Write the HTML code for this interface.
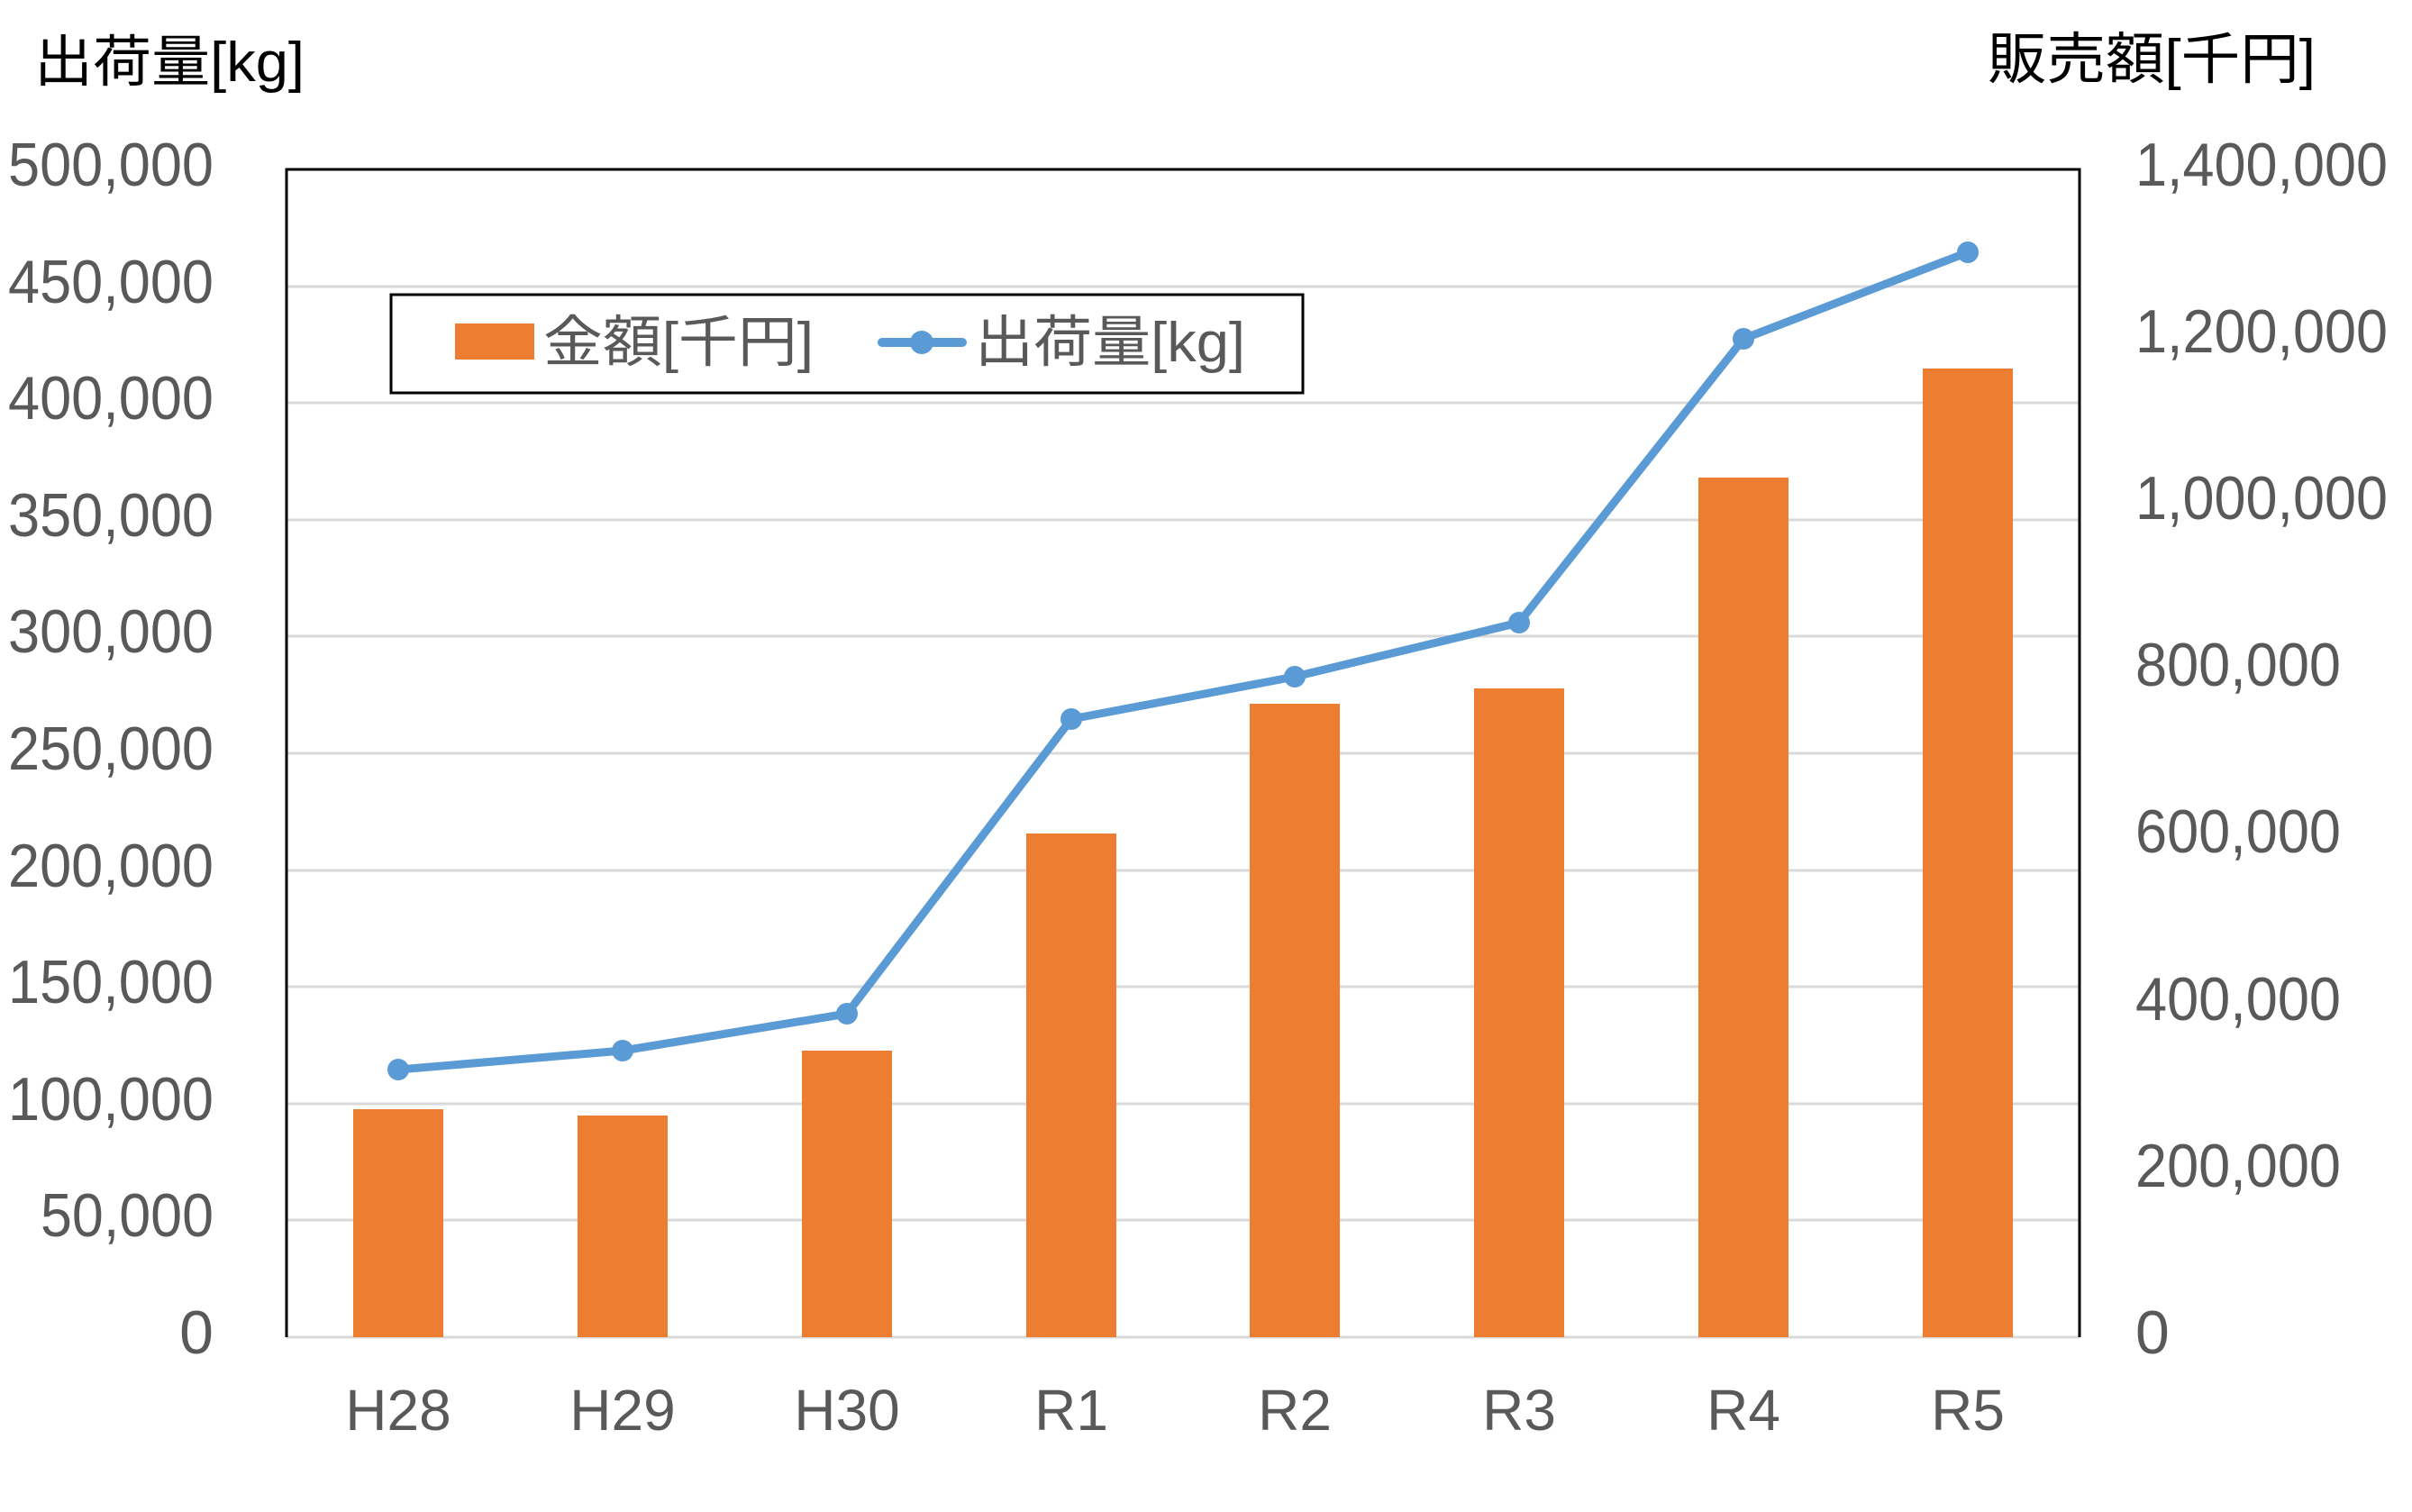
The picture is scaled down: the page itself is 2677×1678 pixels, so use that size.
<!DOCTYPE html>
<html><head><meta charset="utf-8"><style>
html,body{margin:0;padding:0;background:#fff;width:2677px;height:1678px;overflow:hidden}
svg{display:block}
text{font-family:"Liberation Sans","Noto Sans CJK JP",sans-serif}
</style></head><body>
<svg width="2677" height="1678" viewBox="0 0 2677 1678" xmlns="http://www.w3.org/2000/svg">
<g stroke="#d9d9d9" stroke-width="3">
<line x1="318" y1="318" x2="2308" y2="318"/>
<line x1="318" y1="447" x2="2308" y2="447"/>
<line x1="318" y1="577" x2="2308" y2="577"/>
<line x1="318" y1="706" x2="2308" y2="706"/>
<line x1="318" y1="836" x2="2308" y2="836"/>
<line x1="318" y1="966" x2="2308" y2="966"/>
<line x1="318" y1="1095" x2="2308" y2="1095"/>
<line x1="318" y1="1225" x2="2308" y2="1225"/>
<line x1="318" y1="1354" x2="2308" y2="1354"/>
<line x1="318" y1="1484" x2="2308" y2="1484"/>
</g>
<g fill="#ED7D31">
<rect x="392" y="1231" width="100" height="253"/>
<rect x="641" y="1238" width="100" height="246"/>
<rect x="890" y="1166" width="100" height="318"/>
<rect x="1139" y="925" width="100" height="559"/>
<rect x="1387" y="781" width="100" height="703"/>
<rect x="1636" y="764" width="100" height="720"/>
<rect x="1885" y="530" width="100" height="954"/>
<rect x="2134" y="409" width="100" height="1075"/>
</g>
<polyline fill="none" stroke="#5B9BD5" stroke-width="9" stroke-linejoin="round" points="442,1187 691,1166 940,1125 1189,798 1437,751 1686,691 1935,376 2184,280"/>
<g fill="#5B9BD5">
<circle cx="442" cy="1187" r="12"/><circle cx="691" cy="1166" r="12"/><circle cx="940" cy="1125" r="12"/><circle cx="1189" cy="798" r="12"/><circle cx="1437" cy="751" r="12"/><circle cx="1686" cy="691" r="12"/><circle cx="1935" cy="376" r="12"/><circle cx="2184" cy="280" r="12"/>
</g>
<path d="M318,1484 V188 H2308 V1484" fill="none" stroke="#000" stroke-width="3"/>
<!-- legend -->
<rect x="434" y="327" width="1012" height="109" fill="#fff" stroke="#000" stroke-width="3"/>
<rect x="505" y="359" width="88" height="40" fill="#ED7D31"/>
<text x="603" y="401" font-size="62" fill="#595959" textLength="300" lengthAdjust="spacingAndGlyphs">金額[千円]</text>
<line x1="979" y1="380" x2="1068" y2="380" stroke="#5B9BD5" stroke-width="10" stroke-linecap="round"/>
<circle cx="1023" cy="380" r="13" fill="#5B9BD5"/>
<text x="1082" y="401" font-size="62" fill="#595959" textLength="300" lengthAdjust="spacingAndGlyphs">出荷量[kg]</text>
<!-- titles -->
<text x="38" y="90" font-size="62" fill="#000" textLength="300" lengthAdjust="spacingAndGlyphs">出荷量[kg]</text>
<text x="2206" y="87" font-size="62" fill="#000" textLength="364" lengthAdjust="spacingAndGlyphs">販売額[千円]</text>
<!-- left axis -->
<g font-size="68" fill="#595959" text-anchor="end">
<text x="237" y="206" textLength="228" lengthAdjust="spacingAndGlyphs">500,000</text>
<text x="237" y="336" textLength="228" lengthAdjust="spacingAndGlyphs">450,000</text>
<text x="237" y="465" textLength="228" lengthAdjust="spacingAndGlyphs">400,000</text>
<text x="237" y="595" textLength="228" lengthAdjust="spacingAndGlyphs">350,000</text>
<text x="237" y="724" textLength="228" lengthAdjust="spacingAndGlyphs">300,000</text>
<text x="237" y="854" textLength="228" lengthAdjust="spacingAndGlyphs">250,000</text>
<text x="237" y="984" textLength="228" lengthAdjust="spacingAndGlyphs">200,000</text>
<text x="237" y="1113" textLength="228" lengthAdjust="spacingAndGlyphs">150,000</text>
<text x="237" y="1243" textLength="228" lengthAdjust="spacingAndGlyphs">100,000</text>
<text x="237" y="1372" textLength="192" lengthAdjust="spacingAndGlyphs">50,000</text>
<text x="237" y="1502">0</text>
</g>
<!-- right axis -->
<g font-size="68" fill="#595959">
<text x="2370" y="206" textLength="280" lengthAdjust="spacingAndGlyphs">1,400,000</text>
<text x="2370" y="391" textLength="280" lengthAdjust="spacingAndGlyphs">1,200,000</text>
<text x="2370" y="576" textLength="280" lengthAdjust="spacingAndGlyphs">1,000,000</text>
<text x="2370" y="761" textLength="228" lengthAdjust="spacingAndGlyphs">800,000</text>
<text x="2370" y="946" textLength="228" lengthAdjust="spacingAndGlyphs">600,000</text>
<text x="2370" y="1132" textLength="228" lengthAdjust="spacingAndGlyphs">400,000</text>
<text x="2370" y="1317" textLength="228" lengthAdjust="spacingAndGlyphs">200,000</text>
<text x="2370" y="1502">0</text>
</g>
<!-- x axis -->
<g font-size="64" fill="#595959" text-anchor="middle">
<text x="442" y="1587">H28</text><text x="691" y="1587">H29</text><text x="940" y="1587">H30</text><text x="1189" y="1587">R1</text><text x="1437" y="1587">R2</text><text x="1686" y="1587">R3</text><text x="1935" y="1587">R4</text><text x="2184" y="1587">R5</text>
</g>
</svg>
</body></html>
